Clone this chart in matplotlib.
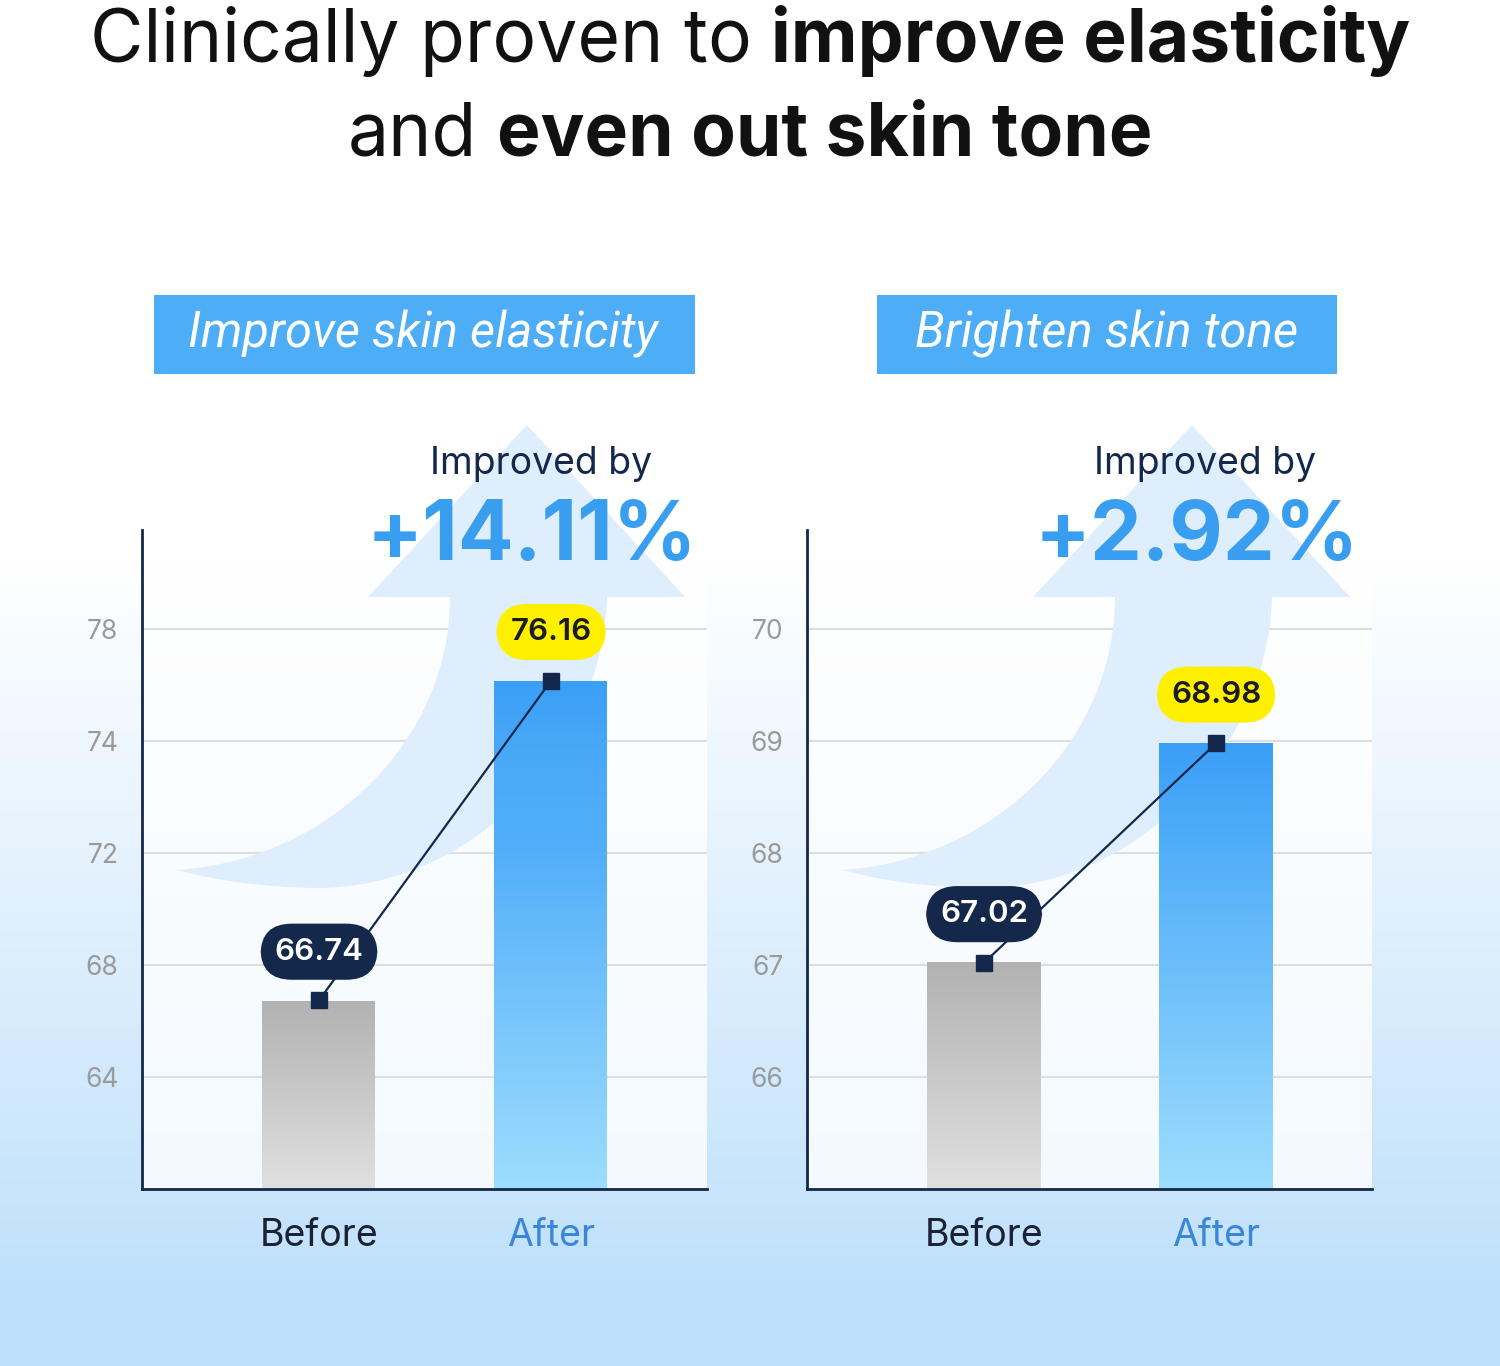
import numpy as np
import matplotlib
matplotlib.use("Agg")
import matplotlib.pyplot as plt
from matplotlib.patches import Rectangle, PathPatch
from matplotlib.path import Path
from matplotlib.colors import LinearSegmentedColormap

W, H = 1500, 1366

# data
groups = ["Before", "After"]
elasticity = [66.74, 76.16]
tone = [67.02, 68.98]
elasticity_ticks = [64, 68, 72, 74, 78]
tone_ticks = [66, 67, 68, 69, 70]
panel_titles = ["Improve skin elasticity", "Brighten skin tone"]
improvements = ["+14.11%", "+2.92%"]

FONT = ["Inter", "DejaVu Sans"]
NAVY = "#13284a"
BLUE_TXT = "#3a9ef0"
BOX_BLUE = "#4dadf7"
YELLOW = "#fff000"
ARROW_C = "#deeefc"

plt.rcParams["font.family"] = FONT


def fx(x):
    return x / W


def fy(y):
    return 1 - y / H


fig = plt.figure(figsize=(W / 100, H / 100), dpi=100)

# background: white fading to light blue towards the bottom
bg = fig.add_axes([0, 0, 1, 1], zorder=-10)
rows = np.arange(H)
t = np.clip((rows - 560) / (1300 - 560), 0, 1)[:, None]
top_c = np.array([1.0, 1.0, 1.0])
bot_c = np.array([190, 224, 251]) / 255
grad = (1 - t) * top_c + t * bot_c
bg.imshow(grad[:, None, :], aspect="auto", extent=[0, 1, 0, 1])
bg.axis("off")

renderer = fig.canvas.get_renderer()


def fit_width(txt, target):
    bb = txt.get_window_extent(renderer)
    txt.set_fontsize(txt.get_fontsize() * target / bb.width)


def rich_line(pieces, base_y, size, target=None):
    texts = [fig.text(0, fy(base_y), s, fontsize=size, fontweight=w,
                      va="baseline", ha="left", color="#111111")
             for s, w in pieces]
    if target is not None:
        widths = [tx.get_window_extent(renderer).width for tx in texts]
        gap = 0.27 * size * 100 / 72
        total = sum(widths) + gap * (len(texts) - 1)
        for tx in texts:
            tx.set_fontsize(size * target / total)
    size = texts[0].get_fontsize()
    widths = [tx.get_window_extent(renderer).width for tx in texts]
    gap = 0.27 * size * 100 / 72
    total = sum(widths) + gap * (len(texts) - 1)
    x = (W - total) / 2
    for tx, w in zip(texts, widths):
        tx.set_x(fx(x))
        x += w + gap
    return size


size = rich_line([("Clinically proven to", "normal"), ("improve elasticity", "bold")],
                 62, 54, target=1320)
rich_line([("and", "normal"), ("even out skin tone", "bold")], 155, size)

# piecewise scale for the elasticity axis (ticks equally spaced)
el_vals = [60] + elasticity_ticks + [82]
el_pos = list(range(len(el_vals)))


def el_fwd(v):
    return np.interp(v, el_vals, el_pos)


def el_inv(p):
    return np.interp(p, el_pos, el_vals)


# arrow outline in pixels relative to the left panel
arrow_px = [(368, 597), (527, 425), (685, 597), (607, 597),
            (603, 745), (477, 888), (317, 888),
            (240, 887), (177, 870),
            (330, 860), (450, 740), (450, 597),
            (368, 597), (368, 597)]
arrow_codes = [Path.MOVETO, Path.LINETO, Path.LINETO, Path.LINETO,
               Path.CURVE4, Path.CURVE4, Path.CURVE4,
               Path.CURVE3, Path.CURVE3,
               Path.CURVE4, Path.CURVE4, Path.CURVE4,
               Path.LINETO, Path.CLOSEPOLY]
ax_left, ax_top, ax_w, ax_h = 142, 530, 565, 659
arrow_frac = [((x - ax_left) / ax_w, (ax_top + ax_h - y) / ax_h) for x, y in arrow_px]

gray_cm = LinearSegmentedColormap.from_list("g", ["#e0e0e0", "#b2b2b2"])
blue_cm = LinearSegmentedColormap.from_list("b", ["#9dddfe", "#3a9ff7"])

panels = [
    dict(vals=elasticity, ticks=elasticity_ticks, ylim=(60, 81.54), left=142,
         box=(154, 695), title_cx=423, title_w=470,
         imp_cx=541, pct_cx=532, pct_w=331),
    dict(vals=tone, ticks=tone_ticks, ylim=(65, 70.884), left=807,
         box=(877, 1337), title_cx=1107, title_w=382,
         imp_cx=1205, pct_cx=1197, pct_w=325),
]

for i, p in enumerate(panels):
    ax = fig.add_axes([fx(p["left"]), fy(1189), ax_w / W, ax_h / H])
    ax.set_facecolor((1, 1, 1, 0.8))
    if i == 0:
        ax.set_yscale("function", functions=(el_fwd, el_inv))
    base = p["ylim"][0]
    x = np.arange(len(groups))
    bars = ax.bar(x, np.array(p["vals"]) - base, bottom=base, width=0.49,
                  color="none", zorder=2)
    for b, cm in zip(bars, [gray_cm, blue_cm]):
        x0, w = b.get_x(), b.get_width()
        g = np.linspace(0, 1, 256)[:, None]
        ax.imshow(g, extent=[x0, x0 + w, base, base + b.get_height()],
                  origin="lower", aspect="auto", cmap=cm, zorder=2.1)
    ax.plot(x, p["vals"], color=NAVY, lw=1.6, marker="s", ms=12, zorder=4)

    for xi, v, fc, tc in zip(x, p["vals"], [NAVY, YELLOW], ["white", "#1b1b1b"]):
        ax.annotate(f"{v:.2f}", (xi, v), xytext=(0, 35), textcoords="offset points",
                    ha="center", va="center", fontsize=22.5, fontweight="semibold",
                    color=tc, zorder=6,
                    bbox=dict(boxstyle="round,pad=0.45,rounding_size=1.0",
                              fc=fc, ec="none"))

    ax.add_patch(PathPatch(Path(arrow_frac, arrow_codes), transform=ax.transAxes,
                           fc=ARROW_C, ec="none", clip_on=False, zorder=1))

    ax.set_xlim(-0.763, 1.672)
    ax.set_ylim(*p["ylim"])
    ax.set_yticks(p["ticks"])
    ax.set_yticklabels([str(v) for v in p["ticks"]])
    ax.tick_params(axis="y", length=0, pad=17, labelsize=19, labelcolor="#9a9a9a")
    ax.set_xticks(x)
    ax.set_xticklabels(groups)
    ax.tick_params(axis="x", length=0, pad=21, labelsize=27)
    xl = ax.get_xticklabels()
    xl[0].set_color("#1c2233")
    xl[1].set_color("#3a86d8")
    ax.grid(axis="y", color="#dedede", lw=1.5)
    ax.set_axisbelow(True)
    for s in ["top", "right"]:
        ax.spines[s].set_visible(False)
    for s in ["left", "bottom"]:
        ax.spines[s].set_color(NAVY)
        ax.spines[s].set_linewidth(2)

    # panel title box
    bx0, bx1 = p["box"]
    fig.patches.append(Rectangle((fx(bx0), fy(374)), (bx1 - bx0) / W, 79 / H,
                                 transform=fig.transFigure, fc=BOX_BLUE, ec="none"))
    tt = fig.text(fx(p["title_cx"]), fy(334), panel_titles[i], fontsize=30,
                  style="italic", color="white", ha="center", va="center",
                  family=["Roboto", "DejaVu Sans"])
    fit_width(tt, p["title_w"])

    imp = fig.text(fx(p["imp_cx"]), fy(474), "Improved by", fontsize=30,
                   color=NAVY, ha="center", va="baseline")
    fit_width(imp, 222)
    pct = fig.text(fx(p["pct_cx"]), fy(560), improvements[i], fontsize=60,
                   fontweight="bold", color=BLUE_TXT, ha="center", va="baseline")
    fit_width(pct, p["pct_w"])

fig.savefig("out.png", dpi=100)
